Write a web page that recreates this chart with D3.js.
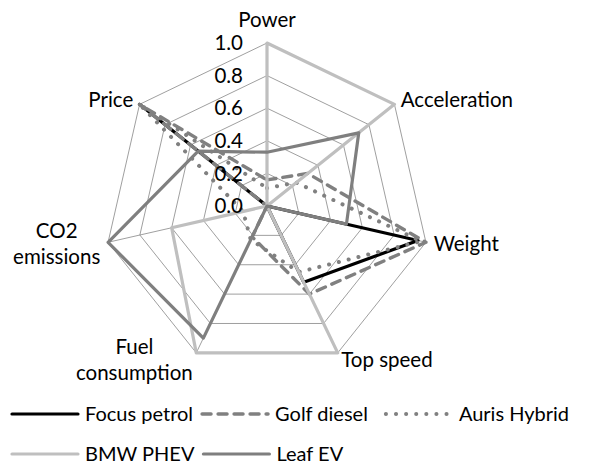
<!DOCTYPE html>
<html>
<head>
<meta charset="utf-8">
<script src="https://cdn.jsdelivr.net/npm/d3@7"></script>
<style>
  body { margin: 0; background: #fff; }
  svg text { font-family: Lato, "Open Sans", sans-serif; fill: #000; }
</style>
</head>
<body>
<div id="app"></div>
<script>
const WIDTH = 592
const HEIGHT = 466
const CX = 267
const CY = 206
const R = 163
const FONT = 20.5
const LEG_FONT = 20

// axes, clockwise from the top
const axisLabels = [["Power"], ["Acceleration"], ["Weight"], ["Top speed"], ["Fuel", "consumption"], ["CO2", "emissions"], ["Price"]]
const tickValues = [0, 0.2, 0.4, 0.6, 0.8, 1.0]

const seriesNames = ["Focus petrol", "Golf diesel", "Auris Hybrid", "BMW PHEV", "Leaf EV"]
const focusPetrol = [0, 0, 0.95, 0.52, 0, 0, 1.0]
const golfDiesel = [0.16, 0.32, 1.0, 0.6, 0.21, 0, 1.0]
const aurisHybrid = [0.11, 0.23, 0.97, 0.45, 0.23, 0.15, 1.0]
const bmwPhev = [1.0, 1.0, 0, 1.0, 1.0, 0.6, 0]
const leafEv = [0.33, 0.72, 0.5, 0, 0.9, 1.0, 0.54]

const seriesValues = [focusPetrol, golfDiesel, aurisHybrid, bmwPhev, leafEv]
const styles = [
  { color: "#000000", dash: null, width: 3.2 },
  { color: "#808080", dash: "9,7", width: 3.4 },
  { color: "#808080", dash: "0.1,10", width: 4 },
  { color: "#bfbfbf", dash: null, width: 3.2 },
  { color: "#7f7f7f", dash: null, width: 3.2 },
]

const n = axisLabels.length
const angle = d3.scaleLinear().domain([0, n]).range([0, 2 * Math.PI])
const r = d3.scaleLinear().domain([0, 1]).range([0, R])

const pt = (i, v) => [CX + r(v) * Math.sin(angle(i)), CY - r(v) * Math.cos(angle(i))]

const svg = d3.select("#app").append("svg")
  .attr("width", WIDTH)
  .attr("height", HEIGHT)
  .style("background-color", "white")

// grid rings
const grid = svg.append("g").attr("class", "grid")
  .attr("fill", "none")
  .attr("stroke", "#868686")
  .attr("stroke-width", 0.8)

grid.selectAll("polygon")
  .data(tickValues.filter(t => t > 0))
  .enter()
.append("polygon")
  .attr("points", t => d3.range(n).map(i => pt(i, t).join(",")).join(" "))

grid.selectAll("line")
  .data(d3.range(n))
  .enter()
.append("line")
  .attr("x1", CX).attr("y1", CY)
  .attr("x2", i => pt(i, 1)[0])
  .attr("y2", i => pt(i, 1)[1])

// series
const line = d3.lineRadial()
  .angle((d, i) => angle(i))
  .radius(d => r(d))
  .curve(d3.curveLinearClosed)

svg.append("g")
  .attr("transform", `translate(${CX},${CY})`)
.selectAll("path")
  .data(seriesValues)
  .enter()
.append("path")
  .attr("d", d => line(d))
  .attr("fill", "none")
  .attr("stroke", (d, i) => styles[i].color)
  .attr("stroke-width", (d, i) => styles[i].width)
  .attr("stroke-linejoin", "round")
  .attr("stroke-linecap", "round")
  .attr("stroke-dasharray", (d, i) => styles[i].dash)

// tick labels along the Power axis
svg.append("g")
.selectAll("text")
  .data(tickValues)
  .enter()
.append("text")
  .attr("x", CX - 24)
  .attr("y", t => CY - r(t))
  .attr("dy", "0.35em")
  .attr("text-anchor", "end")
  .style("font-size", FONT + "px")
  .text(t => t.toFixed(1))

// axis labels
const LINE_H = 26
axisLabels.forEach((lines, i) => {
  const s = Math.sin(angle(i)), c = Math.cos(angle(i))
  const [vx, vy] = pt(i, 1)
  const ax = vx + s * 8
  let ay = vy - c * 8
  const h = lines.length * LINE_H
  if (c > 0.95) ay -= h / 2 + 2
  const g = svg.append("g")
  const texts = g.selectAll("text")
    .data(lines)
    .enter()
  .append("text")
    .style("font-size", FONT + "px")
    .attr("text-anchor", "middle")
    .attr("dy", "0.35em")
    .text(d => d)
  const w = d3.max(texts.nodes(), t => t.getComputedTextLength())
  const mx = Math.abs(s) < 0.1 ? ax : (s > 0 ? ax + w / 2 : ax - w / 2)
  texts
    .attr("x", mx)
    .attr("y", (d, k) => ay - h / 2 + LINE_H / 2 + k * LINE_H)
})

// legend
const legendRows = [[0, 1, 2], [3, 4]]
const LEG_Y = [414, 454]
const LEG_LINE = 66
legendRows.forEach((row, ri) => {
  let x = 12
  row.forEach(si => {
    const g = svg.append("g").attr("transform", `translate(${x},${LEG_Y[ri]})`)
    g.append("line")
      .attr("x1", 0).attr("x2", LEG_LINE)
      .attr("stroke", styles[si].color)
      .attr("stroke-width", styles[si].width)
      .attr("stroke-linecap", "round")
      .attr("stroke-dasharray", styles[si].dash)
    const t = g.append("text")
      .attr("x", LEG_LINE + 7)
      .attr("dy", "0.35em")
      .style("font-size", LEG_FONT + "px")
      .text(seriesNames[si])
    x += LEG_LINE + 7 + t.node().getComputedTextLength() + (si === 1 ? 18 : 9)
  })
})
</script>
</body>
</html>
